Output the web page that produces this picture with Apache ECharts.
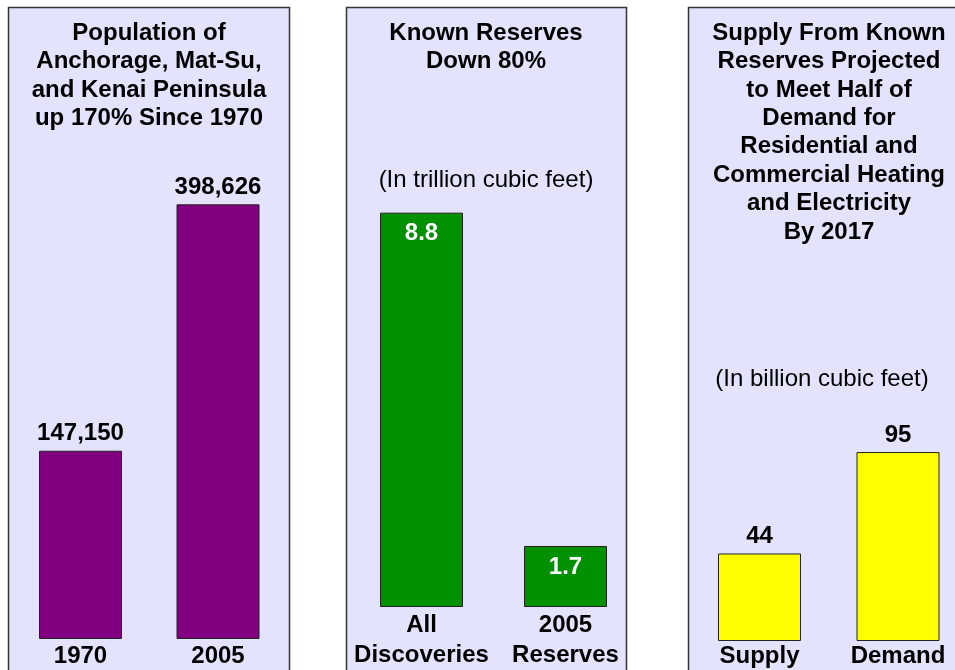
<!DOCTYPE html>
<html>
<head>
<meta charset="utf-8">
<script src="https://cdn.jsdelivr.net/npm/echarts@6/dist/echarts.min.js"></script>
<style>
  html, body { margin: 0; padding: 0; background: #ffffff; }
  #chart { width: 955px; height: 670px; }
</style>
</head>
<body>
<div id="chart"></div>
<script>
// Panel 1: population
const popTitle = ['Population of', 'Anchorage, Mat-Su,', 'and Kenai Peninsula', 'up 170% Since 1970'];
const popCategories = ['1970', '2005'];
const popValues = [147150, 398626];

// Panel 2: known gas reserves
const resTitle = ['Known Reserves', 'Down 80%'];
const resUnit = '(In trillion cubic feet)';
const resCategories = ['All\nDiscoveries', '2005\nReserves'];
const resValues = [8.8, 1.7];

// Panel 3: supply vs demand
const supTitle = ['Supply From Known', 'Reserves Projected', 'to Meet Half of', 'Demand for',
                  'Residential and', 'Commercial Heating', 'and Electricity', 'By 2017'];
const supUnit = '(In billion cubic feet)';
const supCategories = ['Supply', 'Demand'];
const supValues = [44, 95];

const FONT = '"Liberation Sans", Arial, Helvetica, sans-serif';
const PANEL_BG = '#e3e3fd';
const PANEL_BORDER = '#333333';

const chart = echarts.init(document.getElementById('chart'), null, { renderer: 'canvas' });

function panelRect(x, w) {
  return {
    type: 'rect',
    shape: { x: x, y: 7.5, width: w, height: 700 },
    style: { fill: PANEL_BG, stroke: PANEL_BORDER, lineWidth: 1.5 },
    z: -10
  };
}

function titleBlock(lines, cx, top, bold) {
  return {
    text: Array.isArray(lines) ? lines.join('\n') : lines,
    left: cx,
    top: top,
    padding: 0,
    textAlign: 'center',
    textStyle: {
      fontFamily: FONT,
      fontSize: 24,
      fontWeight: bold ? 'bold' : 'normal',
      color: '#000000',
      lineHeight: 28.4
    }
  };
}

// Categories sit on the grid edges (boundaryGap off), so each grid spans
// exactly from the first bar centre to the second one.
function catAxis(idx, cats, margin, lineHeight) {
  return {
    type: 'category',
    gridIndex: idx,
    data: cats,
    boundaryGap: false,
    axisLine: { show: false },
    axisTick: { show: false },
    axisLabel: {
      interval: 0,
      margin: margin,
      fontFamily: FONT,
      fontSize: 24,
      fontWeight: 'bold',
      color: '#000000',
      lineHeight: lineHeight
    }
  };
}

function valAxis(idx, min, max) {
  return {
    type: 'value',
    gridIndex: idx,
    min: min,
    max: max,
    startValue: min,
    show: false,
    splitLine: { show: false }
  };
}

function barSeries(idx, values, color, labelPos, labelColor, dist, fmt) {
  return {
    type: 'bar',
    xAxisIndex: idx,
    yAxisIndex: idx,
    data: values,
    barWidth: 83,
    clip: false,
    itemStyle: { color: color, borderColor: '#222222', borderWidth: 1 },
    label: {
      show: true,
      position: labelPos,
      distance: dist,
      fontFamily: FONT,
      fontSize: 24,
      fontWeight: 'bold',
      color: labelColor,
      formatter: fmt
    },
    emphasis: { disabled: true },
    silent: true,
    animation: false
  };
}

const fmtThousands = p => p.value.toLocaleString('en-US');
const fmtPlain = p => String(p.value);

chart.setOption({
  backgroundColor: '#ffffff',
  animation: false,
  graphic: [
    panelRect(8.5, 281),
    panelRect(346.5, 280),
    panelRect(688.5, 300)
  ],
  title: [
    titleBlock(popTitle, 149, 19, true),
    titleBlock(resTitle, 486, 19, true),
    titleBlock(resUnit, 486, 166, false),
    titleBlock(supTitle, 829, 19, true),
    titleBlock(supUnit, 822, 365, false)
  ],
  grid: [
    { left: 80.5, width: 137.5, top: 105, height: 536 },
    { left: 421.5, width: 144, top: 100, height: 508 },
    { left: 759.5, width: 138.5, top: 100, height: 541 }
  ],
  xAxis: [
    catAxis(0, popCategories, 3, 28),
    catAxis(1, resCategories, 3, 30),
    catAxis(2, supCategories, 1, 28)
  ],
  yAxis: [
    valAxis(0, -45000, 500000),
    valAxis(1, 0.4, 11.2),
    valAxis(2, 0, 272)
  ],
  series: [
    barSeries(0, popValues, '#800080', 'top', '#000000', 5, fmtThousands),
    barSeries(1, resValues, '#009000', 'insideTop', '#ffffff', 9, fmtPlain),
    barSeries(2, supValues, '#ffff00', 'top', '#000000', 5, fmtPlain)
  ]
});
</script>
</body>
</html>
